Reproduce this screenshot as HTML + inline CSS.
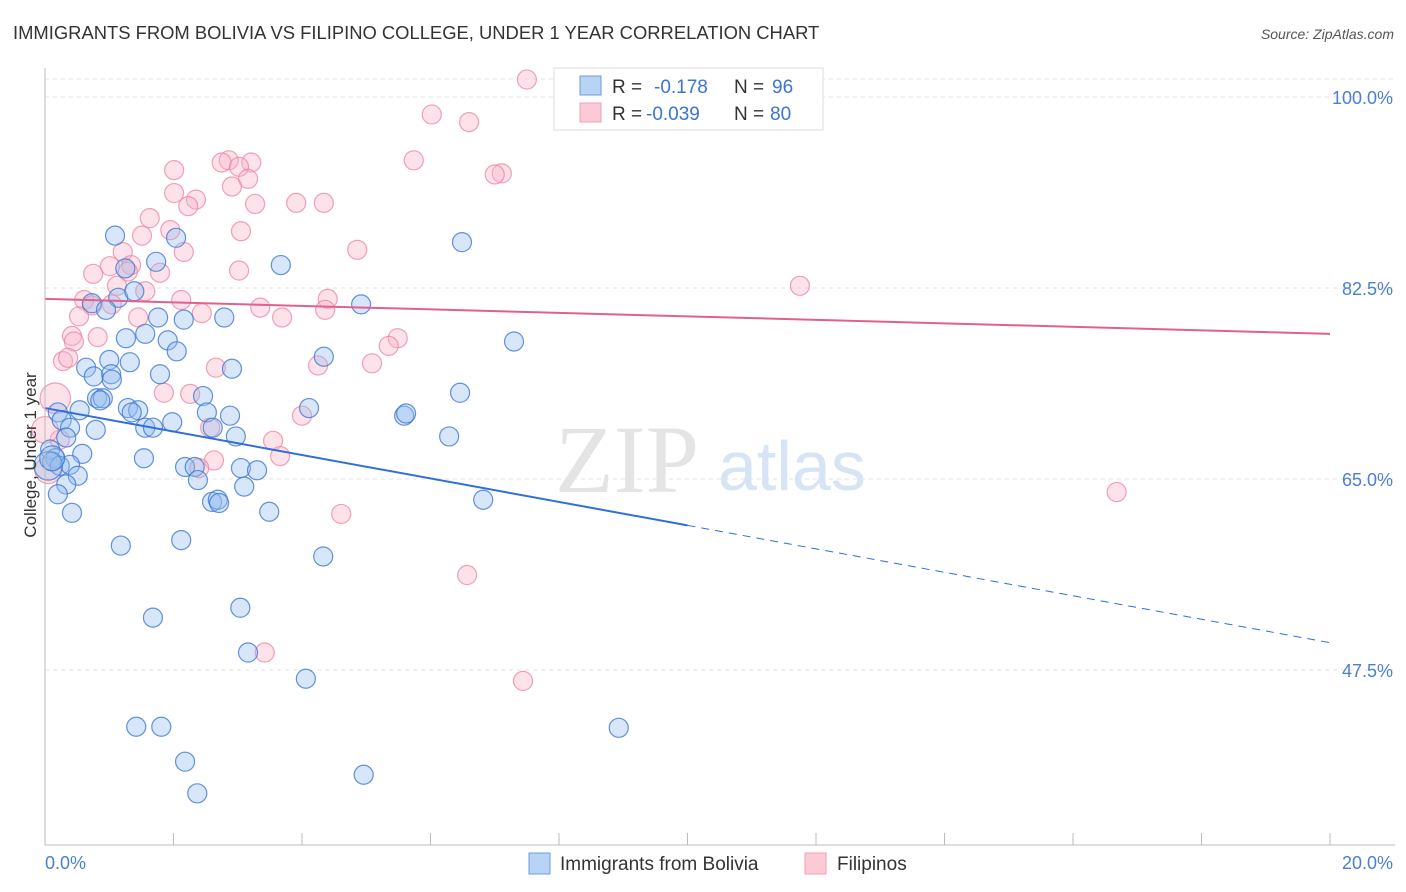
<!DOCTYPE html>
<html><head><meta charset="utf-8">
<style>
body{margin:0;background:#fff;font-family:"Liberation Sans",sans-serif;}
#wrap{position:relative;width:1406px;height:892px;overflow:hidden;}
</style></head>
<body>
<div id="wrap">
<svg id="chart" width="1406" height="892" xmlns="http://www.w3.org/2000/svg">
<text x="13" y="39" font-size="18.4" fill="#333">IMMIGRANTS FROM BOLIVIA VS FILIPINO COLLEGE, UNDER 1 YEAR CORRELATION CHART</text>
<text x="1394" y="39" font-size="14" fill="#555" font-style="italic" text-anchor="end">Source: ZipAtlas.com</text>
<g id="grid"></g>
<text x="555" y="492" font-size="96" fill="#e4e4e4" font-family="Liberation Serif,serif">ZIP</text>
<text x="718" y="490" font-size="70" fill="#d6e4f5">atlas</text>
<g id="pts"></g>
<g id="lines"></g>
<g id="axes"></g>
<text x="36" y="455" font-size="17" fill="#333" text-anchor="middle" transform="rotate(-90 36 455)">College, Under 1 year</text>
<text x="45" y="869" font-size="18" fill="#4a7fd4">0.0%</text>
<text x="1393" y="869" font-size="18" fill="#4a7fd4" text-anchor="end">20.0%</text>
<g>
<rect x="554" y="68" width="269" height="62" fill="#fff" stroke="#ddd"/>
<rect x="580" y="76" width="21" height="19" fill="#b9d3f5" stroke="#6b9be0"/>
<rect x="580" y="103" width="21" height="19" fill="#fcc9d7" stroke="#f2a0b8"/>
<text x="612" y="93" font-size="19" fill="#333">R = </text><text x="654" y="93" font-size="19" fill="#3a74d6">-0.178</text>
<text x="734" y="93" font-size="19" fill="#333">N = </text><text x="772" y="93" font-size="19" fill="#3a74d6">96</text>
<text x="612" y="120" font-size="19" fill="#333">R = </text><text x="646" y="120" font-size="19" fill="#3a74d6">-0.039</text>
<text x="734" y="120" font-size="19" fill="#333">N = </text><text x="770" y="120" font-size="19" fill="#3a74d6">80</text>
</g>
<g>
<rect x="529" y="853" width="21" height="21" fill="#b9d3f5" stroke="#6b9be0"/>
<text x="560" y="870" font-size="19" fill="#333">Immigrants from Bolivia</text>
<rect x="805" y="853" width="21" height="21" fill="#fcc9d7" stroke="#f2a0b8"/>
<text x="837" y="870" font-size="19" fill="#333">Filipinos</text>
</g>
</svg>
</div>
<script>
const yTicks=[100,82.5,65,47.5];
const yTickLabels=["100.0%","82.5%","65.0%","47.5%"];
const xTicks=[0,2,4,6,8,10,12,14,16,18,20];
const blueX=[1.09,2.04,6.49,1.25,1.73,3.67,1.14,1.39,0.73,0.95,4.92,1.76,2.16,2.79,1.56,1.26,1.91,2.05,4.34,7.30,1.00,1.32,0.64,0.76,1.03,1.04,1.79,2.91,6.46,0.81,0.90,0.86,2.46,0.20,0.54,1.29,1.45,1.35,2.52,2.88,4.11,5.59,5.62,0.26,0.39,0.79,1.56,1.68,1.98,2.61,2.97,6.29,0.33,0.08,0.16,0.58,1.54,2.18,2.33,3.05,3.30,2.38,0.11,0.23,0.39,0.51,0.33,0.20,3.10,2.60,2.69,2.71,3.49,6.82,0.42,1.18,2.12,4.33,3.04,1.68,3.16,4.06,1.42,1.81,8.93,2.18,4.96,2.37,0.05,0.11];
const blueY=[87.3,87.1,86.7,84.3,84.9,84.6,81.6,82.2,81.1,80.5,81.0,79.8,79.6,79.8,78.3,77.9,77.7,76.7,76.2,77.6,75.9,75.7,75.2,74.4,74.6,74.1,74.6,75.1,72.9,72.4,72.4,72.2,72.6,71.1,71.3,71.5,71.3,71.1,71.1,70.8,71.5,70.8,71.0,70.4,69.7,69.5,69.7,69.7,70.2,69.7,68.9,68.9,68.8,67.7,66.9,67.3,66.9,66.1,66.1,66.0,65.8,64.9,66.6,66.2,66.3,65.3,64.5,63.6,64.3,62.9,63.1,62.8,62.0,63.1,61.9,58.9,59.4,57.9,53.2,52.3,49.1,46.7,42.3,42.3,42.2,39.1,37.9,36.2,66.2,66.9];
const blueSize=blueX.map((v,i)=>(i===88?1.5:(i===89?1.3:1)));
const pinkX=[7.50,6.02,6.60,5.74,2.86,2.75,3.21,3.02,2.01,7.11,7.00,3.16,2.91,2.01,2.35,2.23,3.27,3.91,4.34,1.63,1.95,1.51,3.05,2.16,4.86,1.21,1.01,1.34,0.75,3.02,1.79,1.29,1.12,1.56,11.75,2.12,4.40,0.61,0.73,1.04,3.35,4.36,2.44,0.53,3.69,1.45,0.42,0.82,0.45,5.49,5.35,0.28,0.36,5.09,4.25,2.66,1.85,2.26,0.16,4.00,2.57,3.55,0.23,3.66,2.63,2.40,16.68,4.61,6.57,3.42,7.44,0.0,0.05];
const pinkY=[101.6,98.4,97.7,94.2,94.2,94.0,94.0,93.6,93.3,93.0,92.9,92.5,91.8,91.2,90.6,90.0,90.2,90.3,90.3,88.9,87.8,87.3,87.7,85.8,86.0,85.8,84.5,84.6,83.8,84.1,83.9,84.0,82.7,82.2,82.7,81.4,81.5,81.4,80.9,81.0,80.7,80.5,80.2,79.9,79.8,79.8,78.1,78.0,77.6,77.9,77.2,75.8,76.1,75.6,75.4,75.2,72.9,72.8,72.4,70.8,69.7,68.5,68.6,67.1,66.7,66.0,63.8,61.8,56.2,49.1,46.5,69.5,65.8];
const pinkSize=pinkX.map((v,i)=>(i===58?1.6:(i>=71?1.4:1)));
const blueTrend=[71.5,50.0];
const pinkTrend=[81.5,78.3];
const blueSolidEnd=10;

const X0=45,X1=1330,Y100=97,PXPER=10.914;
function sx(v){return X0+(v/20)*(X1-X0);}
function sy(v){return Y100+(100-v)*PXPER;}
const NS="http://www.w3.org/2000/svg";
function mk(tag,attrs,parent){const e=document.createElementNS(NS,tag);for(const k in attrs)e.setAttribute(k,attrs[k]);parent.appendChild(e);return e;}
const gridG=document.getElementById('grid'),axesG=document.getElementById('axes'),ptsG=document.getElementById('pts'),linesG=document.getElementById('lines');
const topGrid=mk('line',{x1:X0,x2:1395,y1:79,y2:79,stroke:"#e2e2e2","stroke-dasharray":"4,4"},gridG);


yTicks.forEach((t,i)=>{
  const l=mk('line',{x1:X0,x2:1395,y1:sy(t),y2:sy(t),stroke:"#e2e2e2","stroke-dasharray":"4,4"},gridG);
  
  
  const tx=mk('text',{x:1393,y:sy(t)+7,"font-size":18,fill:"#4a7fd4","text-anchor":"end"},axesG);
  tx.textContent=yTickLabels[i];
  
  
});
const ya=mk('line',{x1:X0,x2:X0,y1:68,y2:845,stroke:"#bbb"},axesG);


const xa=mk('line',{x1:X0,x2:1395,y1:845,y2:845,stroke:"#bbb"},axesG);


xTicks.forEach(t=>{
  const l=mk('line',{x1:sx(t),x2:sx(t),y1:833,y2:845,stroke:"#bbb"},axesG);
  
  
});
function drawPts(xs,ys,sz,fill,stroke,name){
  xs.forEach((v,i)=>{
    const c=mk('circle',{cx:sx(v),cy:sy(ys[i]),r:9.5*sz[i],fill:fill,stroke:stroke,"stroke-width":1.2},ptsG);
    
    
  });
}
drawPts(pinkX,pinkY,pinkSize,"rgba(249,180,200,0.38)","rgba(236,130,160,0.75)",'filipino-point');
drawPts(blueX,blueY,blueSize,"rgba(150,190,240,0.38)","rgba(60,120,210,0.8)",'bolivia-point');
function lineAt(tr,x){return tr[0]+(tr[1]-tr[0])*x/20;}
const bl=mk('line',{x1:sx(0),y1:sy(lineAt(blueTrend,0)),x2:sx(blueSolidEnd),y2:sy(lineAt(blueTrend,blueSolidEnd)),stroke:"#2f6fd6","stroke-width":2},linesG);


const bd=mk('line',{x1:sx(blueSolidEnd),y1:sy(lineAt(blueTrend,blueSolidEnd)),x2:sx(20),y2:sy(lineAt(blueTrend,20)),stroke:"#2f6fd6","stroke-width":1,"stroke-dasharray":"8,6"},linesG);


const pl=mk('line',{x1:sx(0),y1:sy(lineAt(pinkTrend,0)),x2:sx(20),y2:sy(lineAt(pinkTrend,20)),stroke:"#e06090","stroke-width":2},linesG);


</script>
</body></html>
